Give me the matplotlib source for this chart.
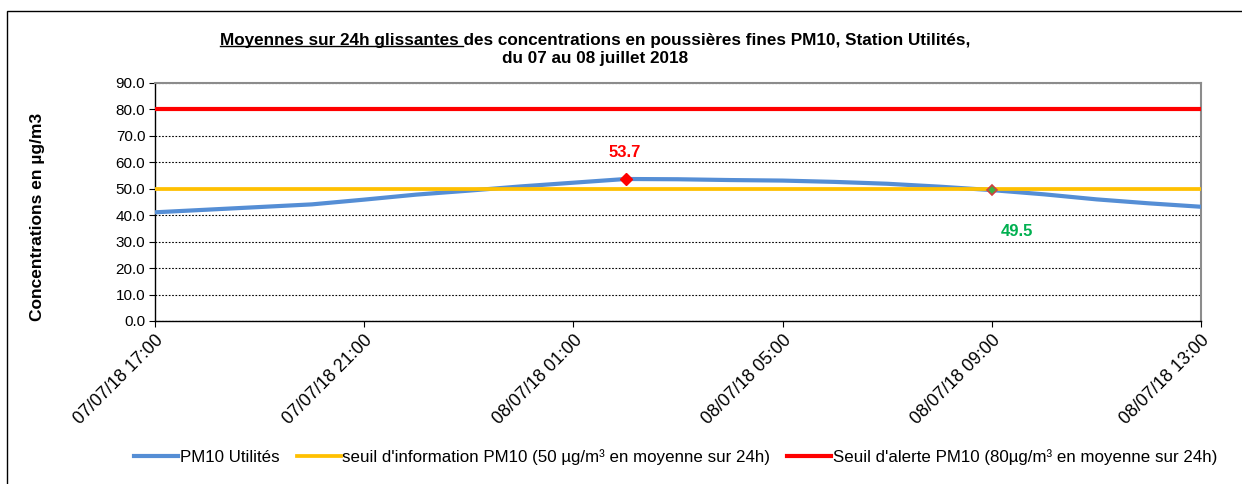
import matplotlib
matplotlib.use("Agg")
import matplotlib.pyplot as plt
import matplotlib.dates as mdates
import pandas as pd
from matplotlib.patches import Rectangle
from matplotlib.lines import Line2D

plt.rcParams['font.family'] = ['Liberation Sans', 'DejaVu Sans']

# hourly rolling 24h means, 07/07/18 17:00 -> 08/07/18 13:00
heures = pd.date_range("2018-07-07 17:00", "2018-07-08 13:00", freq="h")
pm10 = [41.1, 42.1, 43.1, 44.1, 45.9, 47.8, 49.3, 50.9, 52.3, 53.7, 53.6,
        53.3, 53.1, 52.6, 51.9, 50.8, 49.5, 47.9, 46.0, 44.5, 43.2]
seuil_info = 50
seuil_alerte = 80
idx_max = 9
idx_last_label = 16

fig = plt.figure(figsize=(12.42, 4.84), dpi=100)
# outer frame of the chart area
fig.patches.append(Rectangle((7 / 1242, -0.1), 1.2, 1 - 11 / 484 + 0.1, transform=fig.transFigure,
                             fill=False, edgecolor='#000000', linewidth=1.0))

ax = fig.add_axes([155 / 1242, 1 - 321 / 484, (1201 - 155) / 1242, (321 - 83) / 484])

ax.plot(heures, pm10, color='#558ED5', lw=3.0, label='PM10 Utilités', zorder=3)
ax.plot([heures[0], heures[-1]], [seuil_info] * 2, color='#FFC000', lw=2.7,
        label="seuil d'information PM10 (50 µg/m³ en moyenne sur 24h)", zorder=4)
ax.plot([heures[0], heures[-1]], [seuil_alerte] * 2, color='#FF0000', lw=3.0,
        label="Seuil d'alerte PM10 (80µg/m³ en moyenne sur 24h)", zorder=4)

ax.plot(heures[idx_max], pm10[idx_max], marker='D', ms=6.5, color='#FF0000', zorder=6)
ax.plot(heures[idx_last_label], pm10[idx_last_label], marker='D', ms=5.5,
        markerfacecolor='#3CB043', markeredgecolor='#D04040', mew=1.2, zorder=6)
ax.annotate(f"{pm10[idx_max]:.1f}", (heures[idx_max], pm10[idx_max]), xytext=(-1, 19),
            textcoords='offset points', ha='center', va='center', color='#FF0000',
            fontsize=12, fontweight='bold')
ax.annotate(f"{pm10[idx_last_label]:.1f}", (heures[idx_last_label], pm10[idx_last_label]),
            xytext=(18, -30), textcoords='offset points', ha='center', va='center',
            color='#00B050', fontsize=12, fontweight='bold')

ax.set_xlim(heures[0], heures[-1])
ax.set_ylim(0, 90)
ax.set_yticks(range(0, 91, 10))
ax.set_yticklabels([f"{v:.1f}" for v in range(0, 91, 10)])
ax.set_xticks(heures[::4])
ax.xaxis.set_major_formatter(mdates.DateFormatter('%d/%m/%y %H:%M'))
ax.tick_params(axis='both', length=4, width=0.8, color='#000000', pad=3)
ax.tick_params(axis='y', labelsize=11)
ax.tick_params(axis='x', labelsize=12.8, pad=4)
plt.setp(ax.get_xticklabels(), rotation=45, ha='right', rotation_mode='anchor')

ax.grid(axis='y', linestyle=(0, (1.5, 1.5)), color='#000000', lw=0.8)
ax.set_axisbelow(True)
for s in ['top', 'right']:
    ax.spines[s].set_color('#8C8C8C')
    ax.spines[s].set_linewidth(1.5)
for s in ['left', 'bottom']:
    ax.spines[s].set_color('#000000')
    ax.spines[s].set_linewidth(1.0)

ax.set_ylabel('Concentrations en µg/m3', fontsize=12.5, fontweight='bold')
ax.yaxis.set_label_coords((45 - 155) / 1046, (321 - 217) / 238)

# title with the first words underlined
titre_1 = "Moyennes sur 24h glissantes des concentrations en poussières fines PM10, Station Utilités,"
souligne = "Moyennes sur 24h glissantes "
titre_2 = "du 07 au 08 juillet 2018"
t1 = fig.text(595 / 1242, 1 - 40 / 484, titre_1, ha='center', va='center', fontsize=12.3, fontweight='bold')
fig.text(595 / 1242, 1 - 59 / 484, titre_2, ha='center', va='center', fontsize=12.3, fontweight='bold')
fig.canvas.draw()
r = fig.canvas.get_renderer()
bb = t1.get_window_extent(r)
tmp = fig.text(0, 0, souligne, fontsize=12.3, fontweight='bold')
w = tmp.get_window_extent(r).width
tmp.remove()
y_u = (bb.y0 + 1.5) / fig.bbox.height
fig.add_artist(Line2D([bb.x0 / fig.bbox.width, (bb.x0 + w) / fig.bbox.width], [y_u, y_u],
                      transform=fig.transFigure, color='#000000', lw=1.0))

fig.legend(loc='center', bbox_to_anchor=(676 / 1242, 1 - 457 / 484), ncol=3, frameon=False,
           fontsize=12.2, handlelength=2.6, handletextpad=0.1, columnspacing=1.0)

fig.savefig('out.png', dpi=100)
